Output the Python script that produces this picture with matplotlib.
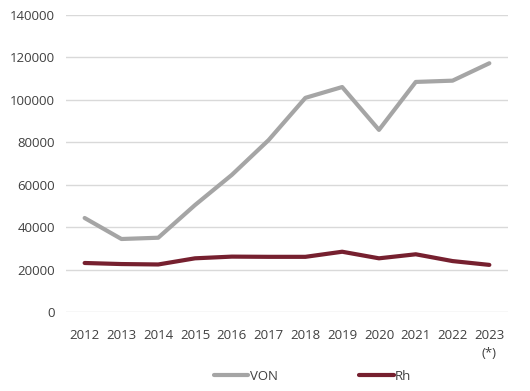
import matplotlib.pyplot as plt

# Datos
anios = ['2012', '2013', '2014', '2015', '2016', '2017', '2018', '2019', '2020', '2021', '2022', '2023\n(*)']
von = [44300, 34400, 35000, 50400, 64600, 81000, 100900, 106000, 85800, 108400, 109000, 117200]
rh = [23100, 22600, 22400, 25300, 26100, 26000, 26000, 28400, 25300, 27200, 24000, 22200]

plt.rcParams['font.family'] = ['Open Sans', 'DejaVu Sans']
plt.rcParams['font.size'] = 9.5

fig = plt.figure(figsize=(5.3, 3.91), dpi=100)
ax = fig.add_axes([0.125, 0.202, 0.833, 0.76])

x = range(len(anios))
ax.plot(x, von, color='#A5A5A5', lw=3, label='VON', solid_capstyle='round')
ax.plot(x, rh, color='#76202F', lw=3, label='Rh', solid_capstyle='round')

ax.set_xlim(-0.5, len(anios) - 0.5)
ax.set_ylim(0, 140000)
ax.set_yticks(range(0, 140001, 20000))
ax.set_xticks(list(x))
ax.set_xticklabels(anios, color='#404040', linespacing=1.5)
ax.tick_params(axis='y', colors='#404040', pad=8)
ax.tick_params(axis='x', pad=12)
ax.tick_params(length=0)
ax.grid(axis='y', color='#D9D9D9', lw=1)
ax.set_axisbelow(True)
for s in ax.spines.values():
    s.set_visible(False)

leg = fig.legend(loc='lower center', ncol=2, frameon=False, bbox_to_anchor=(0.59, -0.01),
                 handlelength=2.6, handletextpad=0.1, columnspacing=6.2)
for t in leg.get_texts():
    t.set_color('#404040')

fig.savefig('out.png', dpi=100)
